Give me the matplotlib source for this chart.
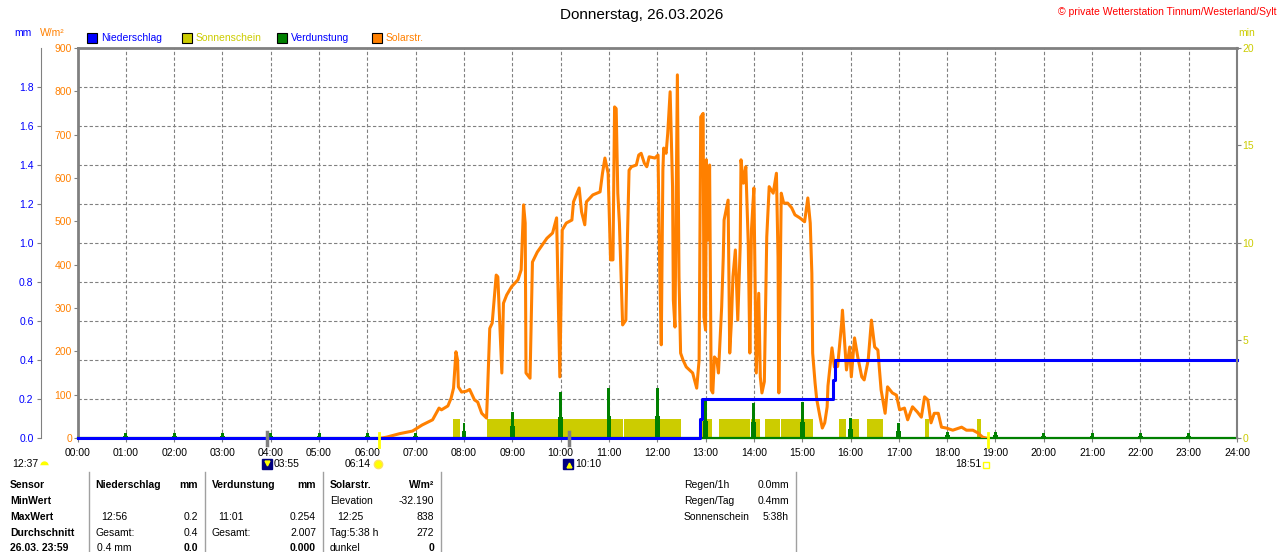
import matplotlib
matplotlib.use("Agg")
import matplotlib.pyplot as plt
from matplotlib.patches import Rectangle
from matplotlib.lines import Line2D

plt.rcParams['font.family'] = ['Liberation Sans', 'DejaVu Sans']
plt.rcParams['font.size'] = 7.5

# ---- data ----
# solar radiation (W/m2), time as HH:MM
solar_time = [
    "06:18", "06:24", "06:40", "06:56", "07:08", "07:21", "07:29", "07:32", "07:40", "07:44",
    "07:47", "07:50", "07:52", "07:53", "07:57", "08:03", "08:07", "08:13", "08:17", "08:22",
    "08:28", "08:29", "08:32", "08:35", "08:40", "08:42", "08:47", "08:49", "08:53", "08:59",
    "09:07", "09:11", "09:14", "09:16", "09:17", "09:22", "09:25", "09:31", "09:43", "09:50",
    "09:55", "09:59", "10:02", "10:07", "10:14", "10:16", "10:23", "10:26", "10:30", "10:32",
    "10:40", "10:49", "10:52", "10:55", "10:59", "11:02", "11:05", "11:07", "11:09", "11:11",
    "11:13", "11:16", "11:17", "11:21", "11:23", "11:25", "11:28", "11:34", "11:37", "11:40",
    "11:44", "11:47", "11:50", "11:57", "12:01", "12:03", "12:05", "12:07", "12:08", "12:11",
    "12:13", "12:16", "12:19", "12:20", "12:22", "12:25", "12:27", "12:29", "12:32", "12:36",
    "12:40", "12:44", "12:49", "12:52", "12:54", "12:57", "12:58", "13:00", "13:01", "13:03",
    "13:05", "13:07", "13:09", "13:11", "13:14", "13:16", "13:20", "13:22", "13:23", "13:28",
    "13:30", "13:32", "13:34", "13:37", "13:40", "13:43", "13:44", "13:47", "13:50", "13:53",
    "13:55", "13:57", "14:00", "14:03", "14:06", "14:08", "14:10", "14:13", "14:16", "14:19",
    "14:24", "14:28", "14:30", "14:31", "14:34", "14:37", "14:42", "14:47", "14:51", "14:57",
    "15:03", "15:07", "15:10", "15:12", "15:13", "15:16", "15:18", "15:22", "15:25", "15:28",
    "15:31", "15:32", "15:37", "15:40", "15:44", "15:49", "15:50", "15:55", "15:59", "16:01",
    "16:05", "16:09", "16:14", "16:17", "16:22", "16:26", "16:30", "16:34", "16:38", "16:43",
    "16:46", "16:52", "16:57", "17:01", "17:07", "17:11", "17:17", "17:23", "17:28", "17:32",
    "17:36", "17:40", "17:44", "17:49", "17:53", "17:59", "18:07", "18:18", "18:24", "18:32",
    "18:38", "18:44", "18:48",
]
solar_wm2 = [
    0, 2, 10, 16, 30, 42, 69, 65, 74, 92,
    115, 199, 180, 118, 106, 108, 112, 88, 83, 57,
    46, 95, 253, 265, 376, 372, 150, 311, 330, 349,
    365, 388, 538, 496, 150, 138, 406, 429, 461, 473,
    508, 141, 480, 496, 503, 545, 577, 522, 492, 545,
    561, 568, 611, 646, 611, 411, 411, 764, 760, 565,
    496, 318, 261, 272, 464, 618, 626, 630, 653, 657,
    634, 626, 649, 646, 653, 395, 215, 618, 669, 657,
    703, 799, 580, 318, 256, 838, 372, 196, 180, 164,
    157, 150, 115, 180, 741, 749, 279, 249, 642, 457,
    630, 111, 104, 187, 180, 150, 303, 418, 503, 549,
    196, 265, 372, 434, 272, 441, 642, 588, 626, 450,
    196, 480, 577, 150, 334, 141, 104, 130, 464, 580,
    565, 611, 418, 104, 565, 542, 542, 531, 515, 508,
    499, 554, 496, 380, 196, 127, 90, 50, 23, 35,
    72, 120, 208, 164, 165, 265, 295, 157, 210, 141,
    231, 187, 141, 134, 180, 272, 210, 203, 111, 57,
    118, 104, 99, 65, 69, 42, 72, 60, 48, 95,
    88, 35, 57, 57, 25, 23, 18, 25, 18, 18,
    12, 2, 0,
]

# cumulative rain (mm)
rain_time = ["00:00", "12:53", "12:56", "15:38", "15:41"]
rain_mm = [0.0, 0.1, 0.2, 0.3, 0.4]

# hourly evaporation (mm)
evap_hour = list(range(1, 24))
evap_mm = [0.025, 0.025, 0.025, 0.025, 0.025, 0.025, 0.025, 0.077, 0.133, 0.236,
           0.254, 0.254, 0.195, 0.18, 0.185, 0.103, 0.077, 0.031, 0.031, 0.025,
           0.025, 0.025, 0.025]

# sunshine periods (1 min per minute)
sun_start = ["07:46", "08:29", "09:20", "11:19", "12:53", "13:17", "13:32", "13:56", "14:14",
             "14:34", "15:46", "16:02", "16:20", "17:32", "18:37"]
sun_end = ["07:55", "09:19", "11:17", "12:29", "13:08", "13:31", "13:55", "14:08", "14:32",
           "15:13", "15:55", "16:10", "16:40", "17:38", "18:42"]

hour_labels = ["%02d:00" % h for h in range(25)]

ORANGE = '#ff8000'
BLUE = '#0000ff'
GREEN = '#008000'
YELLOW = '#cccc00'
GRAY = '#808080'

W, H = 1280, 552


def hm(t):
    h, m = t.split(":")
    return int(h) + int(m) / 60.0


def fx(px):
    return px / W


def fy(py):
    return 1 - py / H


fig = plt.figure(figsize=(12.8, 5.52), dpi=100)
ax = fig.add_axes([fx(77.5), fy(438), (1237 - 77.5) / W, 390 / H])
ax_mm = ax.twinx()
ax_min = ax.twinx()
ax.set_xlim(0, 24)
ax.set_ylim(0, 900)
ax_mm.set_ylim(0, 2.0)
ax_min.set_ylim(0, 20)

# grid
ax.set_xticks(range(25))
ax.set_xticklabels(hour_labels)
ax.grid(axis='x', color=GRAY, linestyle=(0, (3, 2)), linewidth=0.8, zorder=0)
ax.set_axisbelow(True)
for v in [0.2, 0.4, 0.6, 0.8, 1.0, 1.2, 1.4, 1.6, 1.8]:
    ax.plot([0, 24], [v, v], color=GRAY, linestyle=(0, (3, 2)), linewidth=0.8,
            transform=ax_mm.transData, zorder=1)

# sunshine
for s, e in zip(sun_start, sun_end):
    ax.bar(hm(s), 1.0, width=hm(e) - hm(s), align='edge', color=YELLOW,
           linewidth=0, transform=ax_min.transData, zorder=2)

# evaporation (thin spike with a wider foot)
ax.plot([0, 24], [0, 0], color=GREEN, linewidth=1.6, transform=ax_mm.transData,
        zorder=3, clip_on=False)
ax.bar(evap_hour, evap_mm, width=0.06, color=GREEN, linewidth=0,
       transform=ax_mm.transData, zorder=3)
ax.bar(evap_hour, [v * 0.45 for v in evap_mm], width=0.1, color=GREEN, linewidth=0,
       transform=ax_mm.transData, zorder=3)

# solar
ax.plot([hm(t) for t in solar_time], solar_wm2, color=ORANGE, linewidth=2.2, zorder=4)

# rain
rx = [hm(t) for t in rain_time] + [24]
ry = rain_mm + [rain_mm[-1]]
ax.plot(rx, ry, drawstyle='steps-post', color=BLUE, linewidth=2.2,
        transform=ax_mm.transData, zorder=5, clip_on=False)

ax.set_xlim(0, 24)
ax.set_ylim(0, 900)

# axes styling
ax.spines['top'].set_color(GRAY)
ax.spines['top'].set_linewidth(2)
ax.spines['left'].set_color(GRAY)
ax.spines['left'].set_linewidth(2)
ax.spines['right'].set_visible(False)
ax.spines['bottom'].set_color(GRAY)
ax.set_yticks(range(0, 901, 100))
ax.tick_params(axis='y', colors=GRAY, labelcolor=ORANGE, length=3, pad=1, labelsize=7.5)
ax.tick_params(axis='x', colors=GRAY, labelcolor='black', length=3, pad=4, labelsize=7.5)

for s in ['top', 'bottom', 'right']:
    ax_mm.spines[s].set_visible(False)
ax_mm.yaxis.tick_left()
ax_mm.spines['left'].set_position(('outward', 26.6))
ax_mm.spines['left'].set_color(GRAY)
ax_mm.set_yticks([0.0, 0.2, 0.4, 0.6, 0.8, 1.0, 1.2, 1.4, 1.6, 1.8])
ax_mm.set_yticklabels(["%.1f" % v for v in ax_mm.get_yticks()])
ax_mm.tick_params(axis='y', colors=GRAY, labelcolor=BLUE, length=3, pad=2, labelsize=7.5)

for s in ['top', 'bottom', 'left']:
    ax_min.spines[s].set_visible(False)
ax_min.spines['right'].set_color(GRAY)
ax_min.spines['right'].set_linewidth(1.5)
ax_min.set_yticks([0, 5, 10, 15, 20])
ax_min.tick_params(axis='y', colors=GRAY, labelcolor=YELLOW, length=3, pad=1, labelsize=7.5)

# sun / moon markers on the time axis
xt = ax.get_xaxis_transform()
ax.plot([hm("03:55")] * 2, [-0.018, 0.015], color=GRAY, lw=2.5, transform=xt, clip_on=False, zorder=6)
ax.plot([hm("10:10")] * 2, [-0.018, 0.015], color=GRAY, lw=2.5, transform=xt, clip_on=False, zorder=6)
ax.plot([hm("06:14")] * 2, [-0.023, 0.013], color='#ffff00', lw=2, transform=xt, clip_on=False, zorder=6)
ax.plot([hm("18:51")] * 2, [-0.023, 0.013], color='#ffff00', lw=2, transform=xt, clip_on=False, zorder=6)

# titles
fig.text(fx(642), fy(15), "Donnerstag, 26.03.2026", ha='center', va='center', fontsize=11)
fig.text(fx(1276), fy(12), "\u00a9 private Wetterstation Tinnum/Westerland/Sylt", ha='right',
         va='center', color='#ff0000', fontsize=7.5)
fig.text(fx(14), fy(33), "mm", color=BLUE, va='center')
fig.text(fx(40), fy(33), "W/m\u00b2", color=ORANGE, va='center')
fig.text(fx(1238), fy(33), "min", color=YELLOW, va='center')

# legend
legend = [("Niederschlag", BLUE, BLUE, 87), ("Sonnenschein", YELLOW, YELLOW, 182),
          ("Verdunstung", GREEN, BLUE, 277), ("Solarstr.", ORANGE, ORANGE, 372)]
for name, box, txt, px in legend:
    fig.add_artist(Rectangle((fx(px), fy(43)), 10 / W, 10 / H, facecolor=box,
                             edgecolor='black', linewidth=0.8, transform=fig.transFigure))
    fig.text(fx(px + 14), fy(38), name, color=txt, va='center')

# astro row below the axis
fig.text(fx(12), fy(464), "12:37", va='center')
fig.add_artist(Line2D([fx(44)], [fy(465)], marker='o', markersize=6, fillstyle='top',
                      markerfacecolor='#ffff00', markerfacecoloralt='white', markeredgewidth=0,
                      transform=fig.transFigure))
fig.add_artist(Line2D([fx(267)], [fy(464)], marker='s', markersize=7, color='#000080',
                      transform=fig.transFigure))
fig.add_artist(Line2D([fx(267)], [fy(463)], marker='v', markersize=3.5, color='#ffff00',
                      transform=fig.transFigure))
fig.text(fx(274), fy(464), "03:55", va='center')
fig.text(fx(345), fy(464), "06:14", va='center')
fig.add_artist(Line2D([fx(378)], [fy(464)], marker='o', markersize=6, markerfacecolor='#ffff00',
                      markeredgecolor='#ffe060', transform=fig.transFigure))
fig.add_artist(Line2D([fx(568)], [fy(464)], marker='s', markersize=7, color='#000080',
                      transform=fig.transFigure))
fig.add_artist(Line2D([fx(569)], [fy(465)], marker='^', markersize=3.5, color='#ffff00',
                      transform=fig.transFigure))
fig.text(fx(575), fy(464), "10:10", va='center')
fig.text(fx(955), fy(464), "18:51", va='center')
fig.add_artist(Line2D([fx(986)], [fy(465)], marker='s', markersize=4, markerfacecolor='none',
                      markeredgecolor='#ffff00', markeredgewidth=1, transform=fig.transFigure))

# table
rows_y = [485, 501, 517, 533, 548]
for px in [89, 205, 323, 441, 796]:
    fig.add_artist(Line2D([fx(px), fx(px)], [fy(472), fy(552)], color='#a0a0a0', lw=1))

left_col = ["Sensor", "MinWert", "MaxWert", "Durchschnitt", "26.03. 23:59"]
for y, t in zip(rows_y, left_col):
    fig.text(fx(10), fy(y), t, va='center', fontweight='bold')

cells = [
    # (x, row, text, align, bold)
    (95, 0, "Niederschlag", 'left', True), (198, 0, "mm", 'right', True),
    (101, 2, "12:56", 'left', False), (198, 2, "0.2", 'right', False),
    (95, 3, "Gesamt:", 'left', False), (198, 3, "0.4", 'right', False),
    (97, 4, "0.4 mm", 'left', False), (198, 4, "0.0", 'right', True),
    (212, 0, "Verdunstung", 'left', True), (316, 0, "mm", 'right', True),
    (218, 2, "11:01", 'left', False), (316, 2, "0.254", 'right', False),
    (212, 3, "Gesamt:", 'left', False), (316, 3, "2.007", 'right', False),
    (316, 4, "0.000", 'right', True),
    (330, 0, "Solarstr.", 'left', True), (434, 0, "W/m\u00b2", 'right', True),
    (330, 1, "Elevation", 'left', False), (434, 1, "-32.190", 'right', False),
    (337, 2, "12:25", 'left', False), (434, 2, "838", 'right', False),
    (330, 3, "Tag:5:38 h", 'left', False), (434, 3, "272", 'right', False),
    (330, 4, "dunkel", 'left', False), (434, 4, "0", 'right', True),
    (684, 0, "Regen/1h", 'left', False), (789, 0, "0.0mm", 'right', False),
    (684, 1, "Regen/Tag", 'left', False), (789, 1, "0.4mm", 'right', False),
    (684, 2, "Sonnenschein", 'left', False), (789, 2, "5:38h", 'right', False),
]
for px, r, t, ha, bold in cells:
    fig.text(fx(px), fy(rows_y[r]), t, ha=ha, va='center',
             fontweight='bold' if bold else 'normal')

fig.savefig("out.png", dpi=100)
